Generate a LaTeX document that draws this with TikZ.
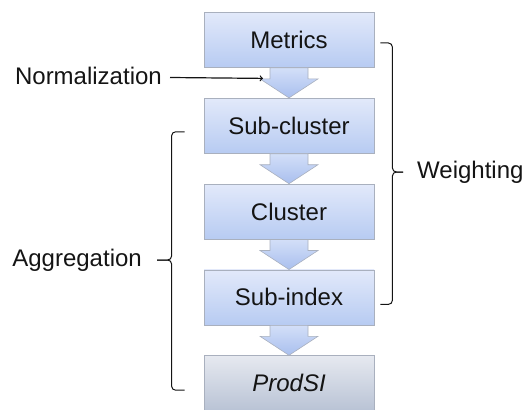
\documentclass[tikz,border=0pt]{standalone}
\usepackage{fontspec}
\setmainfont{Liberation Sans}
\usepackage{tikz}
\usetikzlibrary{arrows,calc,positioning}

\definecolor{boxtop}{HTML}{E2E9FA}
\definecolor{boxbot}{HTML}{B7CBF2}
\definecolor{endtop}{HTML}{E6E9F0}
\definecolor{endbot}{HTML}{B9C3D5}
\definecolor{arrtop}{HTML}{D3DFF8}
\definecolor{arrbot}{HTML}{A9BFEE}
\definecolor{edgegray}{HTML}{A9B0BE}
\definecolor{txt}{HTML}{141414}

\tikzset{
  stage/.style={draw=edgegray, line width=0.8pt, top color=boxtop, bottom color=boxbot,
    minimum width=170pt, minimum height=55pt, text=txt,
    font=\fontsize{24}{28}\selectfont},
  laststage/.style={stage, top color=endtop, bottom color=endbot},
  lbl/.style={text=txt, font=\fontsize{24}{28}\selectfont, inner sep=0pt},
  blockarrow/.style={draw=edgegray, line width=0.6pt, top color=arrtop, bottom color=arrbot},
  bracket/.style={draw=txt, line width=1pt, rounded corners=4pt}
}

\begin{document}
\begin{tikzpicture}[x=1pt, y=-1pt, node distance=30pt]
\useasboundingbox (0,0) rectangle (526,409);

% stages
\node[stage] (metrics) at (289,40) {Metrics};
\node[stage, below=of metrics] (subcluster) {Sub-cluster};
\node[stage, below=of subcluster] (cluster) {Cluster};
\node[stage, below=of cluster] (subindex) {Sub-index};
\node[laststage, below=of subindex] (prodsi) {\itshape ProdSI};

% block arrows between stages
\foreach \a/\b in {metrics/subcluster, subcluster/cluster, cluster/subindex, subindex/prodsi}{
  \path[blockarrow] ($(\a.south)+(-19,0)$) -- ++(0,11) -- ++(-10,0) -- (\b.north)
    -- ($(\a.south)+(29,11)$) -- ++(-10,0) -- ($(\a.south)+(19,0)$) -- cycle;
}

% labels
\node[lbl, anchor=east] (norm) at (162,76) {Normalization};
\coordinate (normend) at ($(metrics.south)+(-26,10.5)$);
\draw[-to, draw=txt, line width=1.2pt] (norm.east) ++(8,1.5) -- (normend);

\node[lbl, anchor=west] (weight) at (417,172) {Weighting};
\node[lbl, anchor=east] (aggr) at (142,260) {Aggregation};

% brackets
\coordinate (wtop) at ($(metrics.east)+(6,3)$);
\coordinate (wbot) at ($(subindex.east)+(6,7)$);
\path[bracket] (wtop) -- ++(12,0) |- ($(weight.west)+(-14,0)$);
\path[bracket] (wbot) -- ++(12,0) |- ($(weight.west)+(-14,0)$);

\coordinate (atop) at ($(subcluster.west)+(-19,6)$);
\coordinate (abot) at ($(prodsi.west)+(-19,7)$);
\path[bracket] (atop) -- ++(-13,0) |- ($(aggr.east)+(15,0)$);
\path[bracket] (abot) -- ++(-13,0) |- ($(aggr.east)+(15,0)$);
\end{tikzpicture}
\end{document}
